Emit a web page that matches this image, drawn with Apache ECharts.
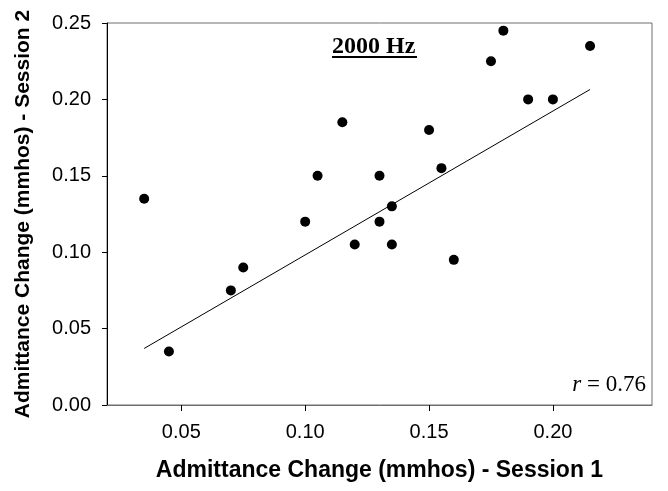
<!DOCTYPE html>
<html>
<head>
<meta charset="utf-8">
<script src="https://cdn.jsdelivr.net/npm/echarts@6/dist/echarts.min.js"></script>
<style>html,body{margin:0;padding:0;background:#fff;}#c{width:668px;height:491px;}</style>
</head>
<body>
<div id="c"></div>
<script>
// Data
const session1 = [0.035, 0.045, 0.070, 0.075, 0.100, 0.105, 0.115, 0.120, 0.130, 0.130, 0.135, 0.135, 0.160, 0.150, 0.155, 0.175, 0.180, 0.190, 0.200, 0.215];
const session2 = [0.135, 0.035, 0.075, 0.090, 0.120, 0.150, 0.185, 0.105, 0.120, 0.150, 0.130, 0.105, 0.095, 0.180, 0.155, 0.225, 0.245, 0.200, 0.200, 0.235];
const fitX = [0.035, 0.215];
const fitY = [0.037, 0.2065];
const xTicks = [0.05, 0.10, 0.15, 0.20];
const yTicks = [0.00, 0.05, 0.10, 0.15, 0.20, 0.25];
const xTitle = 'Admittance Change (mmhos) - Session 1';
const yTitle = 'Admittance Change (mmhos) - Session 2';
const panelTitle = '2000 Hz';
const rValue = '0.76';

const points = session1.map((x, i) => [x, session2[i]]);
const fitLine = fitX.map((x, i) => [x, fitY[i]]);

const chart = echarts.init(document.getElementById('c'), null, {renderer: 'canvas'});
chart.setOption({
  animation: false,
  backgroundColor: '#fff',
  grid: {left: 107, top: 23, right: 16, bottom: 86, show: true, borderColor: '#6e6e6e', borderWidth: 1},
  xAxis: {
    type: 'value', min: 0.02, max: 0.24,
    name: xTitle, nameLocation: 'middle', nameGap: 54,
    nameTextStyle: {fontFamily: 'Liberation Sans', fontWeight: 'bold', fontSize: 23, color: '#000'},
    axisLine: {show: true, onZero: false, lineStyle: {color: '#6e6e6e', width: 1}},
    axisTick: {show: true, inside: false, length: 6, lineStyle: {color: '#000'}, customValues: xTicks},
    axisLabel: {customValues: xTicks, margin: 17, fontFamily: 'Liberation Sans', fontSize: 20, color: '#000', formatter: v => v.toFixed(2)},
    splitLine: {show: false}
  },
  yAxis: {
    type: 'value', min: 0, max: 0.25, interval: 0.05,
    name: yTitle, nameLocation: 'middle', nameGap: 73,
    nameTextStyle: {fontFamily: 'Liberation Sans', fontWeight: 'bold', fontSize: 21, color: '#000', padding: [0, 0, 0, 0]},
    axisLine: {show: true, onZero: false, lineStyle: {color: '#000', width: 1}},
    axisTick: {show: true, inside: false, length: 5, lineStyle: {color: '#000'}},
    axisLabel: {margin: 16, fontFamily: 'Liberation Sans', fontSize: 20, color: '#000', formatter: v => v.toFixed(2)},
    splitLine: {show: false}
  },
  series: [
    {type: 'line', data: fitLine, symbol: 'none', silent: true, lineStyle: {color: '#000', width: 1}, z: 2},
    {type: 'scatter', data: points, symbol: 'circle', symbolSize: 10, itemStyle: {color: '#000', opacity: 1}, z: 3}
  ],
  graphic: [
    {type: 'text', left: 332, top: 35, style: {text: panelTitle, font: 'bold 24px "Liberation Serif"', fill: '#000'}},
    {type: 'rect', left: 332, top: 56, shape: {width: 85, height: 2}, style: {fill: '#000'}},
    {type: 'text', right: 22, top: 373, style: {
      text: '{i|r} = ' + rValue, rich: {i: {fontStyle: 'italic', fontFamily: 'Liberation Serif', fontSize: 23}},
      font: '23px "Liberation Serif"', fill: '#000'}}
  ]
});
</script>
</body>
</html>
